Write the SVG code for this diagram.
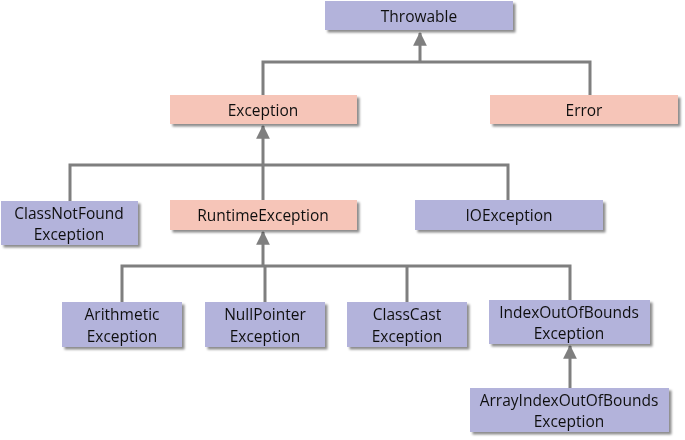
<svg xmlns="http://www.w3.org/2000/svg" width="685" height="440" viewBox="0 0 685 440">
<style>
.b{fill:#b3b3db}
.p{fill:#f6c5b8}
.t{font-family:"Open Sans","Liberation Sans",sans-serif;font-size:15.5px;fill:#111;text-anchor:middle}
.c{stroke:#7f7f7f;stroke-width:3;fill:none}
</style>
<defs>
<filter id="sh" x="-10%" y="-20%" width="130%" height="160%">
<feDropShadow dx="2.5" dy="2.5" stdDeviation="1.2" flood-color="#000" flood-opacity="0.45"/>
</filter>
<marker id="ah" viewBox="0 0 12 12" refX="11" refY="6" markerWidth="4.6" markerHeight="4.6" markerUnits="strokeWidth" orient="auto">
<path d="M0,0 L12,6 L0,12 z" fill="#7f7f7f"/>
</marker>
</defs>
<g id="connectors">
<path class="c" d="M263,95 V62 H590 V95"/>
<path class="c" d="M420,62 V33" marker-end="url(#ah)"/>
<path class="c" d="M70,201 V165 H508 V200"/>
<path class="c" d="M263,200 V126" marker-end="url(#ah)"/>
<path class="c" d="M122,302 V266 H570 V300"/>
<path class="c" d="M265,302 V266"/>
<path class="c" d="M407,302 V266"/>
<path class="c" d="M263,266 V232" marker-end="url(#ah)"/>
<path class="c" d="M570,388 V346" marker-end="url(#ah)"/>
</g>
<g id="throwable" filter="url(#sh)"><rect class="b" x="325" y="1" width="188" height="29"/><text class="t" x="419" y="21.5">Throwable</text></g>
<g id="exception" filter="url(#sh)"><rect class="p" x="170" y="95" width="187" height="29"/><text class="t" x="263" y="115.5">Exception</text></g>
<g id="error" filter="url(#sh)"><rect class="p" x="490" y="95" width="188" height="29"/><text class="t" x="584" y="115.5">Error</text></g>
<g id="classnotfound" filter="url(#sh)"><rect class="b" x="1" y="201" width="137" height="44"/><text class="t" x="69" y="219">ClassNotFound</text><text class="t" x="69" y="240">Exception</text></g>
<g id="runtime" filter="url(#sh)"><rect class="p" x="170" y="200" width="187" height="30"/><text class="t" x="263" y="221">RuntimeException</text></g>
<g id="ioexception" filter="url(#sh)"><rect class="b" x="415" y="200" width="188" height="30"/><text class="t" x="509" y="221">IOException</text></g>
<g id="arithmetic" filter="url(#sh)"><rect class="b" x="62" y="302" width="120" height="45"/><text class="t" x="122" y="320">Arithmetic</text><text class="t" x="122" y="342">Exception</text></g>
<g id="nullpointer" filter="url(#sh)"><rect class="b" x="205" y="302" width="120" height="45"/><text class="t" x="265" y="320">NullPointer</text><text class="t" x="265" y="342">Exception</text></g>
<g id="classcast" filter="url(#sh)"><rect class="b" x="347" y="302" width="120" height="45"/><text class="t" x="407" y="320">ClassCast</text><text class="t" x="407" y="342">Exception</text></g>
<g id="indexoutofbounds" filter="url(#sh)"><rect class="b" x="489" y="300" width="161" height="44"/><text class="t" x="569" y="318">IndexOutOfBounds</text><text class="t" x="569" y="339">Exception</text></g>
<g id="arrayindexoutofbounds" filter="url(#sh)"><rect class="b" x="470" y="388" width="199" height="44"/><text class="t" x="569" y="406">ArrayIndexOutOfBounds</text><text class="t" x="569" y="427">Exception</text></g>
</svg>
